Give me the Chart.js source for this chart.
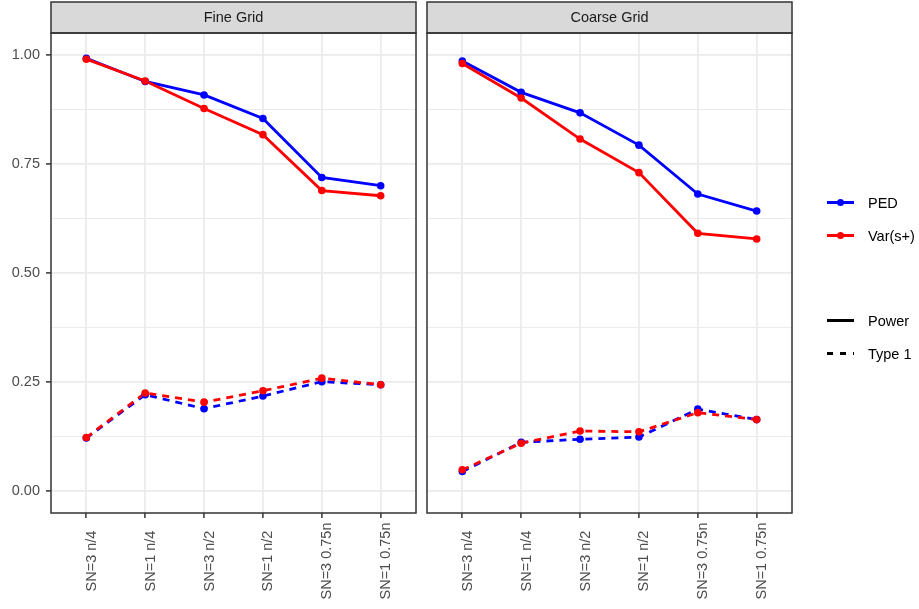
<!DOCTYPE html>
<html>
<head>
<meta charset="utf-8">
<title>Power and Type 1 error by grid</title>
<script src="https://cdn.jsdelivr.net/npm/chart.js@4.4.1/dist/chart.umd.min.js"></script>
<style>
  html, body { margin: 0; padding: 0; background: #ffffff; }
  #wrap { position: relative; width: 919px; height: 609px; overflow: hidden;
          font-family: "Liberation Sans", Arial, Helvetica, sans-serif; }
  #wrap canvas { position: absolute; left: 0; top: 0; }
  .lg-item { position: absolute; left: 827px; height: 20px; width: 90px; }
  .lg-line { position: absolute; left: 0; top: 8.5px; width: 27px; height: 3px; }
  .lg-dot { position: absolute; left: 9.7px; top: 6.2px; width: 7.6px; height: 7.6px; border-radius: 50%; }
  .lg-text { position: absolute; left: 41px; top: 0; line-height: 20px; font-size: 14.5px; color: #000; white-space: nowrap; }
</style>
</head>
<body>
<div id="wrap">
  <canvas id="fineChart" width="919" height="609"></canvas>
  <canvas id="coarseChart" width="919" height="609"></canvas>
  <div id="legend"></div>
</div>
<script>
// ---- data ----
const categories = ['SN=3 n/4', 'SN=1 n/4', 'SN=3 n/2', 'SN=1 n/2', 'SN=3 0.75n', 'SN=1 0.75n'];
const panelTitles = ['Fine Grid', 'Coarse Grid'];
const methodNames = ['PED', 'Var(s+)'];
const metricNames = ['Power', 'Type 1'];

const fineGridPowerPED   = [0.992, 0.939, 0.908, 0.854, 0.719, 0.700];
const fineGridPowerVar   = [0.990, 0.940, 0.877, 0.817, 0.689, 0.677];
const fineGridType1PED   = [0.122, 0.221, 0.189, 0.218, 0.251, 0.244];
const fineGridType1Var   = [0.123, 0.225, 0.204, 0.230, 0.259, 0.244];

const coarseGridPowerPED = [0.986, 0.914, 0.867, 0.793, 0.681, 0.642];
const coarseGridPowerVar = [0.980, 0.901, 0.807, 0.730, 0.591, 0.578];
const coarseGridType1PED = [0.045, 0.112, 0.119, 0.124, 0.188, 0.164];
const coarseGridType1Var = [0.049, 0.110, 0.138, 0.136, 0.180, 0.164];

const yTickValues  = [0, 0.25, 0.5, 0.75, 1];
const yTickLabels  = ['0.00', '0.25', '0.50', '0.75', '1.00'];
const yMinorValues = [0.125, 0.375, 0.625, 0.875];

// ---- styles ----
const methodColors = ['#0000ff', '#ff0000'];
const dashPattern = [7, 6];
const FONT = '"Liberation Sans", Arial, Helvetica, sans-serif';
const W = 919, H = 609;
const PANEL_TOP = 33, PANEL_BOTTOM = 513, STRIP_TOP = 2;
const panelBounds = [[51, 416], [427, 792]];

const toPoints = vals => vals.map((v, i) => ({ x: i, y: v }));

// Frame, strip header and rotated category labels for each facet panel
const panelFrame = {
  id: 'panelFrame',
  afterDraw(chart, args, opts) {
    const { ctx, chartArea: a } = chart;
    ctx.save();
    ctx.fillStyle = '#d9d9d9';
    ctx.fillRect(a.left, STRIP_TOP, a.right - a.left, a.top - STRIP_TOP);
    ctx.strokeStyle = '#333333';
    ctx.lineWidth = 1.5;
    ctx.strokeRect(a.left, STRIP_TOP, a.right - a.left, a.top - STRIP_TOP);
    ctx.strokeRect(a.left, a.top, a.right - a.left, a.bottom - a.top);

    ctx.fillStyle = '#1a1a1a';
    ctx.font = '14.5px ' + FONT;
    ctx.textAlign = 'center';
    ctx.textBaseline = 'middle';
    ctx.fillText(opts.title, (a.left + a.right) / 2, (STRIP_TOP + a.top) / 2 + 0.5);

    const xs = chart.scales.x;
    ctx.fillStyle = '#4d4d4d';
    ctx.textAlign = 'center';
    ctx.textBaseline = 'alphabetic';
    categories.forEach((c, i) => {
      const px = xs.getPixelForValue(i);
      ctx.save();
      ctx.translate(px + 9.5, 561);
      ctx.rotate(-Math.PI / 2);
      ctx.fillText(c, 0, 0);
      ctx.restore();
    });
    ctx.restore();
  }
};

function lineSet(vals, color, dashed, withPoints) {
  return {
    data: toPoints(vals),
    borderColor: color,
    backgroundColor: color,
    borderWidth: withPoints ? 0 : 2.8,
    borderDash: dashed ? dashPattern : [],
    showLine: !withPoints,
    pointRadius: withPoints ? 3.8 : 0,
    pointBorderWidth: 0,
    pointHoverRadius: 0,
    tension: 0
  };
}

function makePanel(canvasId, title, bounds, showY, powerPED, powerVar, t1PED, t1Var) {
  const [left, right] = bounds;
  // first dataset is drawn on top: points above lines, red above blue
  const datasets = [
    lineSet(powerVar, methodColors[1], false, true),
    lineSet(t1Var, methodColors[1], true, true),
    lineSet(powerPED, methodColors[0], false, true),
    lineSet(t1PED, methodColors[0], true, true),
    lineSet(powerVar, methodColors[1], false, false),
    lineSet(t1Var, methodColors[1], true, false),
    lineSet(powerPED, methodColors[0], false, false),
    lineSet(t1PED, methodColors[0], true, false)
  ];
  const isMajor = v => yTickValues.indexOf(v) >= 0;
  return new Chart(document.getElementById(canvasId), {
    type: 'line',
    data: { datasets },
    options: {
      responsive: false,
      animation: false,
      devicePixelRatio: 1,
      events: [],
      layout: { padding: { left: showY ? 0 : left, right: W - right, top: PANEL_TOP, bottom: 0 } },
      plugins: {
        legend: { display: false },
        tooltip: { enabled: false },
        panelFrame: { title }
      },
      scales: {
        x: {
          type: 'linear',
          min: -0.6,
          max: 5.6,
          afterBuildTicks: s => { s.ticks = categories.map((c, i) => ({ value: i })); },
          afterFit: s => { s.height = H - PANEL_BOTTOM; },
          ticks: { display: false, autoSkip: false },
          grid: { color: '#ebebeb', lineWidth: 1.8, tickLength: 5, tickColor: '#333333', tickWidth: 1.5 },
          border: { display: false }
        },
        y: {
          type: 'linear',
          min: -0.05,
          max: 1.05,
          afterBuildTicks: s => {
            s.ticks = yTickValues.concat(yMinorValues).sort((p, q) => p - q).map(v => ({ value: v }));
          },
          afterFit: s => { s.width = showY ? left : 0; },
          ticks: {
            display: showY,
            autoSkip: false,
            padding: 6,
            color: '#4d4d4d',
            font: { family: FONT, size: 14.5 },
            callback: v => { const k = yTickValues.indexOf(v); return k >= 0 ? yTickLabels[k] : ''; }
          },
          grid: {
            color: '#ebebeb',
            lineWidth: c => (c.tick && isMajor(c.tick.value)) ? 1.8 : 1,
            drawTicks: showY,
            tickLength: 5,
            tickWidth: 1.5,
            tickColor: c => (c.tick && isMajor(c.tick.value)) ? '#333333' : 'rgba(0,0,0,0)'
          },
          border: { display: false }
        }
      }
    },
    plugins: [panelFrame]
  });
}

makePanel('fineChart', panelTitles[0], panelBounds[0], true,
  fineGridPowerPED, fineGridPowerVar, fineGridType1PED, fineGridType1Var);
makePanel('coarseChart', panelTitles[1], panelBounds[1], false,
  coarseGridPowerPED, coarseGridPowerVar, coarseGridType1PED, coarseGridType1Var);

// ---- legend ----
const legend = document.getElementById('legend');
function legendItem(y, text, lineCss, dotColor) {
  const item = document.createElement('div');
  item.className = 'lg-item';
  item.style.top = (y - 10) + 'px';
  const line = document.createElement('div');
  line.className = 'lg-line';
  line.style.cssText += lineCss;
  item.appendChild(line);
  if (dotColor) {
    const dot = document.createElement('div');
    dot.className = 'lg-dot';
    dot.style.background = dotColor;
    item.appendChild(dot);
  }
  const label = document.createElement('div');
  label.className = 'lg-text';
  label.textContent = text;
  item.appendChild(label);
  legend.appendChild(item);
}
legendItem(202.5, methodNames[0], 'background:' + methodColors[0] + ';', methodColors[0]);
legendItem(235.5, methodNames[1], 'background:' + methodColors[1] + ';', methodColors[1]);
legendItem(320.5, metricNames[0], 'background:#000;', null);
legendItem(353.5, metricNames[1],
  'background:repeating-linear-gradient(90deg,#000 0 6.5px,transparent 6.5px 13px);', null);
</script>
</body>
</html>
